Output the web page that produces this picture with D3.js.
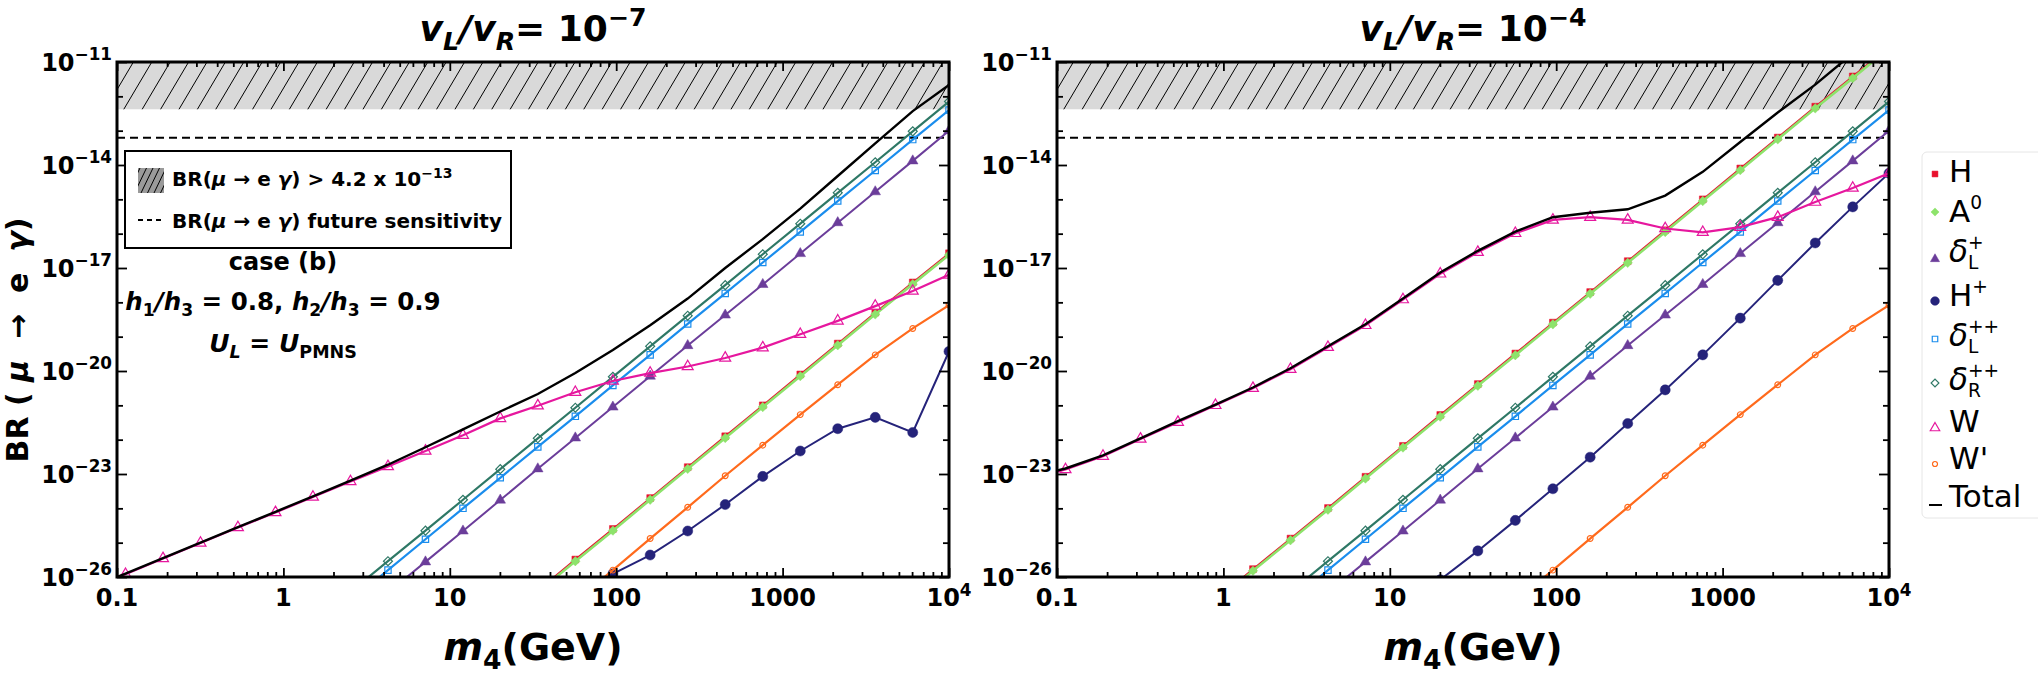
<!DOCTYPE html>
<html>
<head>
<meta charset="utf-8">
<script src="https://cdn.jsdelivr.net/npm/d3@7"></script>
<style>
  body { margin: 0; background: #fff; }
  svg { font-family: 'DejaVu Sans', sans-serif; }
</style>
</head>
<body>
<svg id="chart" width="2038" height="674"></svg>
<script>
const _ = null;

// heavy neutrino mass grid (GeV); the first point (0.1) only carries the curves
const mass = [0.1, 0.1125, 0.189, 0.3175, 0.533, 0.896, 1.505, 2.53, 4.25, 7.14, 12.0, 20.1,
  33.8, 56.8, 95.5, 160, 269, 452, 760, 1277, 2145, 3604, 6055, 10000];

// log10 BR(mu -> e gamma); null = below the frame
// panel a : vL/vR = 1e-7
const hA = [_, _, _, _, _, _, _, _, _, _, _, _, -26.39, -25.49, -24.60, -23.70, -22.80, -21.90, -21.00, -20.10, -19.20, -18.30, -17.42, -16.57];
const a0A = [_, _, _, _, _, _, _, _, _, _, _, _, -26.44, -25.54, -24.65, -23.75, -22.85, -21.95, -21.05, -20.15, -19.25, -18.35, -17.47, -16.62];
const hpA = [_, _, _, _, _, _, _, _, _, _, _, _, _, -26.5, -25.91, -25.36, -24.66, -23.89, -23.07, -22.33, -21.68, -21.35, -21.79, -19.43];
const wA = [-26.0, -25.92, -25.46, -25.01, -24.56, -24.12, -23.67, -23.22, -22.78, -22.33, -21.87, -21.38, -21.01, -20.62, -20.29, -20.06, -19.87, -19.62, -19.32, -18.93, -18.54, -18.11, -17.67, -17.20];
const totA = [-26.0, -25.9, -25.45, -25.0, -24.55, -24.1, -23.65, -23.19, -22.73, -22.22, -21.70, -21.18, -20.67, -20.06, -19.39, -18.67, -17.89, -17.00, -16.16, -15.27, -14.32, -13.37, -12.43, -11.67];

// panel b : vL/vR = 1e-4
const hB = [_, _, _, _, _, -26.67, -25.77, -24.88, -23.99, -23.08, -22.18, -21.28, -20.38, -19.49, -18.59, -17.70, -16.80, -15.90, -15.00, -14.10, -13.20, -12.30, -11.42, -10.55];
const a0B = [_, _, _, _, _, -26.72, -25.82, -24.93, -24.04, -23.13, -22.23, -21.33, -20.43, -19.54, -18.64, -17.75, -16.85, -15.95, -15.05, -14.15, -13.25, -12.35, -11.47, -10.60];
const hpB = [_, _, _, _, _, _, _, _, _, _, -27.0, -26.08, -25.24, -24.35, -23.43, -22.51, -21.53, -20.55, -19.53, -18.46, -17.36, -16.27, -15.22, -14.24];
const wB = [-22.93, -22.87, -22.48, -21.98, -21.49, -21.0, -20.5, -19.95, -19.31, -18.67, -17.92, -17.17, -16.54, -15.99, -15.60, -15.52, -15.60, -15.85, -15.96, -15.81, -15.52, -15.08, -14.67, -14.24];
const totB = [-22.90, -22.84, -22.46, -21.96, -21.46, -20.98, -20.48, -19.92, -19.28, -18.64, -17.89, -17.13, -16.50, -15.94, -15.52, -15.39, -15.29, -14.89, -14.20, -13.33, -12.47, -11.66, -10.75, -9.9];

// these read the same in both panels
const dLp = [_, _, _, _, _, _, _, _, -26.45, -25.56, -24.66, -23.76, -22.85, -21.95, -21.05, -20.15, -19.26, -18.37, -17.48, -16.58, -15.68, -14.78, -13.88, -13.0];
const dLpp = [_, _, _, _, _, _, _, -26.70, -25.80, -24.90, -24.00, -23.11, -22.21, -21.32, -20.42, -19.53, -18.63, -17.74, -16.84, -15.95, -15.05, -14.16, -13.26, -12.40];
const dRpp = [_, _, _, _, _, _, _, -26.43, -25.54, -24.65, -23.75, -22.86, -21.96, -21.07, -20.17, -19.28, -18.39, -17.50, -16.60, -15.71, -14.81, -13.92, -13.02, -12.15];
const wPr = [_, _, _, _, _, _, _, _, _, _, _, _, _, -26.7, -25.8, -24.88, -23.97, -23.05, -22.16, -21.27, -20.40, -19.53, -18.76, -18.08];

// limits
const brBound = 4.2e-13;
const brFuture = 6.2e-14;

// ticks
const xMajor = [0.1, 1, 10, 100, 1000, 10000];
const xTickLabels = [['0.1'], ['1'], ['10'], ['100'], ['1000'], ['10', '4']];
const yLabelExp = [-11, -14, -17, -20, -23, -26];
const yDecades = d3.range(-26, -10);

const series = [
  { a: hA, b: hB, color: '#e8112d', sym: 'square', fill: true, size: 46, lw: 1.6 },
  { a: a0A, b: a0B, color: '#8de36b', sym: 'diamond', fill: true, size: 44, lw: 2.6 },
  { a: dLp, b: dLp, color: '#6b3d9a', sym: 'triangle', fill: true, size: 48, lw: 2 },
  { a: hpA, b: hpB, color: '#25237a', sym: 'circle', fill: true, size: 80, lw: 2 },
  { a: dLpp, b: dLpp, color: '#1a8ded', sym: 'square', fill: false, size: 40, lw: 2.2 },
  { a: dRpp, b: dRpp, color: '#2e7866', sym: 'diamond', fill: false, size: 40, lw: 2.2 },
  { a: wA, b: wB, color: '#e6179e', sym: 'triangle', fill: false, size: 52, lw: 2.2 },
  { a: wPr, b: wPr, color: '#ff6a1c', sym: 'circle', fill: false, size: 26, lw: 2.2 },
  { a: totA, b: totB, color: '#000', sym: null, lw: 2.4 }
];

const legendLabels = [
  [{ t: 'H' }],
  [{ t: 'A', sup: '0' }],
  [{ t: 'δ', it: true, sup: '+', sub: 'L' }],
  [{ t: 'H', sup: '+' }],
  [{ t: 'δ', it: true, sup: '++', sub: 'L' }],
  [{ t: 'δ', it: true, sup: '++', sub: 'R' }],
  [{ t: 'W' }],
  [{ t: "W'" }],
  [{ t: 'Total' }]
];

const svg = d3.select('#chart');
const yTop = 62, yBot = 577;
const panels = [
  { x0: 117, x1: 949, key: 'a', exp: '−7' },
  { x0: 1057, x1: 1889, key: 'b', exp: '−4' }
];

// one text element with sub/superscript tspans, measured piece by piece
function rich(parent, parts, opt) {
  const size = opt.size, ss = size * (opt.scr || 0.7);
  const g = parent.append('g');
  const text = g.append('text')
    .attr('font-size', size)
    .attr('font-weight', opt.weight || 'bold')
    .style('white-space', 'pre');
  let cx = 0;
  const put = (txt, x, y, fs, it) => {
    const t = text.append('tspan')
      .attr('x', x).attr('y', y)
      .attr('font-size', fs)
      .attr('font-style', it ? 'italic' : 'normal')
      .text(txt);
    return t.node().getComputedTextLength();
  };
  parts.forEach(p => {
    if (p.t) cx += put(p.t, cx, 0, size, p.it);
    let w = 0;
    if (p.sup) w = Math.max(w, put(p.sup, cx, -size * 0.42, ss, false));
    if (p.sub) w = Math.max(w, put(p.sub, cx, size * 0.24, ss, p.subIt));
    cx += w;
  });
  let dx = 0;
  if (opt.anchor === 'middle') dx = -cx / 2;
  if (opt.anchor === 'end') dx = -cx;
  g.attr('transform', `translate(${opt.x},${opt.y}) rotate(${opt.rotate || 0}) translate(${dx},0)`);
  return g;
}

function symPath(sym, size) {
  const type = { square: d3.symbolSquare, diamond: d3.symbolSquare, triangle: d3.symbolTriangle, circle: d3.symbolCircle }[sym];
  return d3.symbol().type(type).size(size)();
}

const defs = svg.append('defs');

panels.forEach((p, pi) => {
  const x = d3.scaleLog().domain([0.1, 1e4]).range([p.x0, p.x1]);
  const y = d3.scaleLog().domain([1e-26, 1e-11]).range([yBot, yTop]);

  const clipId = 'clip' + pi;
  defs.append('clipPath').attr('id', clipId)
    .append('rect').attr('x', p.x0).attr('y', yTop).attr('width', p.x1 - p.x0).attr('height', yBot - yTop);

  const plot = svg.append('g').attr('clip-path', `url(#${clipId})`);

  // excluded region, hatched
  const yb = y(brBound), yt = y(1e-11);
  plot.append('rect').attr('x', p.x0).attr('y', yt).attr('width', p.x1 - p.x0).attr('height', yb - yt)
    .attr('fill', '#d9d9d9');
  const hatch = plot.append('g').attr('stroke', '#000').attr('stroke-width', 1);
  for (let hx = p.x0 - 30; hx < p.x1 + 10; hx += 18.4) {
    hatch.append('line').attr('x1', hx).attr('y1', yb).attr('x2', hx + 28).attr('y2', yt);
  }

  // future sensitivity
  plot.append('line').attr('x1', p.x0).attr('x2', p.x1).attr('y1', y(brFuture)).attr('y2', y(brFuture))
    .attr('stroke', '#000').attr('stroke-width', 2).attr('stroke-dasharray', '8,5');

  const line = d3.line()
    .defined(d => d[1] != null)
    .x(d => x(d[0]))
    .y(d => y(Math.pow(10, d[1])));

  series.forEach(s => {
    const vals = s[p.key];
    const pts = mass.map((m, i) => [m, vals[i]]);
    plot.append('path').datum(pts)
      .attr('d', line)
      .attr('fill', 'none')
      .attr('stroke', s.color)
      .attr('stroke-width', s.lw);
    if (!s.sym) return;
    const mk = pts.filter((d, i) => i > 0 && d[1] != null);
    plot.selectAll(null).data(mk).enter().append('path')
      .attr('d', symPath(s.sym, s.size))
      .attr('transform', d => `translate(${x(d[0])},${y(Math.pow(10, d[1]))})` + (s.sym === 'diamond' ? ' rotate(45)' : ''))
      .attr('fill', s.fill ? s.color : 'none')
      .attr('stroke', s.color)
      .attr('stroke-width', s.fill ? 0.5 : 1.2);
  });

  // ticks, all inward
  const xMinor = [];
  for (let e = -1; e < 4; e++) for (let k = 2; k <= 9; k++) xMinor.push(k * Math.pow(10, e));
  const yMaj = yLabelExp.map(e => Math.pow(10, e));
  const yMin = yDecades.filter(e => !yLabelExp.includes(e)).map(e => Math.pow(10, e));

  const tickStyle = g => {
    g.select('.domain').remove();
    g.selectAll('line').attr('stroke', '#000').attr('stroke-width', 1.8);
  };
  svg.append('g').attr('transform', `translate(0,${yBot})`)
    .call(d3.axisBottom(x).tickValues(xMajor).tickSize(-9).tickFormat('')).call(tickStyle);
  svg.append('g').attr('transform', `translate(0,${yBot})`)
    .call(d3.axisBottom(x).tickValues(xMinor).tickSize(-5).tickFormat('')).call(tickStyle);
  svg.append('g').attr('transform', `translate(0,${yTop})`)
    .call(d3.axisTop(x).tickValues(xMajor).tickSize(-9).tickFormat('')).call(tickStyle);
  svg.append('g').attr('transform', `translate(0,${yTop})`)
    .call(d3.axisTop(x).tickValues(xMinor).tickSize(-5).tickFormat('')).call(tickStyle);
  svg.append('g').attr('transform', `translate(${p.x0},0)`)
    .call(d3.axisLeft(y).tickValues(yMaj).tickSize(-10).tickFormat('')).call(tickStyle);
  svg.append('g').attr('transform', `translate(${p.x0},0)`)
    .call(d3.axisLeft(y).tickValues(yMin).tickSize(-6).tickFormat('')).call(tickStyle);
  svg.append('g').attr('transform', `translate(${p.x1},0)`)
    .call(d3.axisRight(y).tickValues(yMaj).tickSize(-10).tickFormat('')).call(tickStyle);
  svg.append('g').attr('transform', `translate(${p.x1},0)`)
    .call(d3.axisRight(y).tickValues(yMin).tickSize(-6).tickFormat('')).call(tickStyle);

  // frame
  svg.append('rect').attr('x', p.x0).attr('y', yTop).attr('width', p.x1 - p.x0).attr('height', yBot - yTop)
    .attr('fill', 'none').attr('stroke', '#000').attr('stroke-width', 3);

  // tick labels
  xMajor.forEach((v, i) => {
    const lab = xTickLabels[i];
    rich(svg, [{ t: lab[0], sup: lab[1] }], { x: x(v), y: 606, size: 24, anchor: 'middle' });
  });
  yLabelExp.forEach(e => {
    rich(svg, [{ t: '10', sup: '−' + Math.abs(e) }], { x: p.x0 - 5, y: y(Math.pow(10, e)) + 8.5, size: 24, anchor: 'end' });
  });

  const cx = (p.x0 + p.x1) / 2;
  rich(svg, [{ t: 'v', it: true, sub: 'L', subIt: true }, { t: '/', it: true }, { t: 'v', it: true, sub: 'R', subIt: true }, { t: '= 10', sup: p.exp }],
    { x: cx, y: 41, size: 36, anchor: 'middle' });
  rich(svg, [{ t: 'm', it: true, sub: '4' }, { t: '(GeV)' }], { x: cx, y: 660, size: 38, anchor: 'middle' });
});

// y axis title
rich(svg, [{ t: 'BR ( ' }, { t: 'μ', it: true }, { t: '  →  e  ' }, { t: 'γ', it: true }, { t: ')' }],
  { x: 28, y: 340, size: 30, anchor: 'middle', rotate: -90 });

// legend box in panel a
const lb = svg.append('g');
lb.append('rect').attr('x', 125).attr('y', 151).attr('width', 386).attr('height', 97)
  .attr('fill', '#fff').attr('stroke', '#000').attr('stroke-width', 2);
defs.append('clipPath').attr('id', 'patchclip')
  .append('rect').attr('x', 138).attr('y', 168).attr('width', 26).attr('height', 25);
lb.append('rect').attr('x', 138).attr('y', 168).attr('width', 26).attr('height', 25).attr('fill', '#9a9a9a');
const ph = lb.append('g').attr('clip-path', 'url(#patchclip)').attr('stroke', '#000').attr('stroke-width', 1);
for (let hx = 128; hx < 170; hx += 6.5) {
  ph.append('line').attr('x1', hx).attr('y1', 193).attr('x2', hx + 12).attr('y2', 168);
}
lb.append('line').attr('x1', 138).attr('x2', 163).attr('y1', 220).attr('y2', 220)
  .attr('stroke', '#000').attr('stroke-width', 2).attr('stroke-dasharray', '5,4');
rich(lb, [{ t: 'BR(' }, { t: 'μ', it: true }, { t: ' → e ' }, { t: 'γ', it: true }, { t: ') > 4.2 x 10', sup: '−13' }],
  { x: 172, y: 186, size: 20 });
rich(lb, [{ t: 'BR(' }, { t: 'μ', it: true }, { t: ' → e ' }, { t: 'γ', it: true }, { t: ') future sensitivity' }],
  { x: 172, y: 228, size: 20 });

// annotations
rich(svg, [{ t: 'case (b)' }], { x: 283, y: 270, size: 24, anchor: 'middle' });
rich(svg, [{ t: 'h', it: true, sub: '1' }, { t: '/', it: true }, { t: 'h', it: true, sub: '3' }, { t: ' = 0.8, ' },
  { t: 'h', it: true, sub: '2' }, { t: '/', it: true }, { t: 'h', it: true, sub: '3' }, { t: ' = 0.9' }],
  { x: 283, y: 310, size: 24.5, anchor: 'middle' });
rich(svg, [{ t: 'U', it: true, sub: 'L', subIt: true }, { t: ' = ' }, { t: 'U', it: true, sub: 'PMNS' }],
  { x: 283, y: 352, size: 25, anchor: 'middle' });

// legend on the right
const lg = svg.append('g');
lg.append('rect').attr('x', 1922).attr('y', 152).attr('width', 140).attr('height', 366).attr('rx', 5)
  .attr('fill', '#fff').attr('stroke', '#e6e6e6').attr('stroke-width', 1);
const rowBase = [182, 222, 262, 306, 346, 390, 432, 469, 507];
const rowMark = [174, 212, 259, 301, 339, 383, 428, 464, 505];
series.forEach((s, i) => {
  if (s.sym) {
    lg.append('path')
      .attr('d', symPath(s.sym, s.size * 0.75))
      .attr('transform', `translate(1935,${rowMark[i]})` + (s.sym === 'diamond' ? ' rotate(45)' : ''))
      .attr('fill', s.fill ? s.color : 'none')
      .attr('stroke', s.color)
      .attr('stroke-width', s.fill ? 0.5 : 1.2);
  } else {
    lg.append('line').attr('x1', 1929).attr('x2', 1942).attr('y1', rowMark[i]).attr('y2', rowMark[i])
      .attr('stroke', s.color).attr('stroke-width', 2);
  }
  rich(lg, legendLabels[i], { x: 1949, y: rowBase[i], size: 31, weight: 'normal', scr: 0.6 });
});
</script>
</body>
</html>
